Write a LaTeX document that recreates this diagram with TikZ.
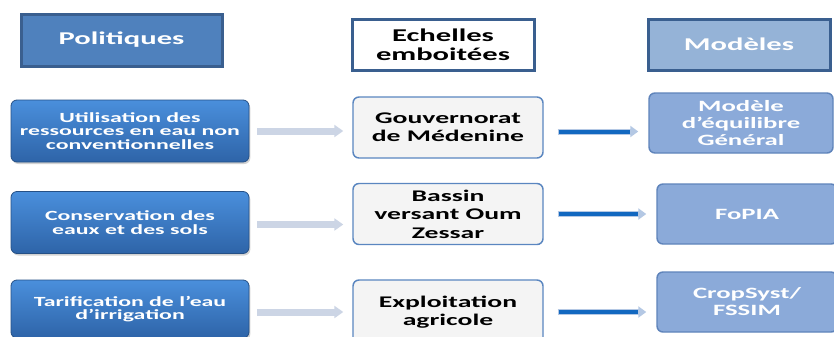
\documentclass[tikz,border=0pt]{standalone}
\usepackage{fontspec}
\setmainfont{Carlito}[FakeStretch=1.7]
\usetikzlibrary{arrows.meta,shadows}
\definecolor{hdrline}{HTML}{3A5F8F}
\definecolor{hdrfill}{HTML}{4F81BD}
\definecolor{mdlhdr}{HTML}{95B3D7}
\definecolor{poltop}{HTML}{4A8FDC}
\definecolor{polbot}{HTML}{2E64A8}
\definecolor{scaleline}{HTML}{5A86C0}
\definecolor{scalefill}{HTML}{F4F4F4}
\definecolor{mdlfill}{HTML}{8BAAD9}
\definecolor{mdlline}{HTML}{5F84BB}
\definecolor{greyarr}{HTML}{CCD5E5}
\definecolor{bluearr}{HTML}{1268C0}
\definecolor{bluehalo}{HTML}{B4C8E4}
\newcommand\pxu{0.75pt}
\begin{document}
\begin{tikzpicture}[x=0.75pt,y=-0.75pt,
  hdr/.style={draw=hdrline,line width=3*\pxu,inner sep=0pt,align=center,
    font=\bfseries\fontsize{13.5}{14}\selectfont},
  polbox/.style={rounded corners=6*\pxu,top color=poltop,bottom color=polbot,
    draw=polbot!80!black,line width=0.6pt,inner sep=0pt,align=center,text=white,
    drop shadow={shadow xshift=1pt,shadow yshift=-1.5pt,opacity=0.35},
    minimum width=238*\pxu,minimum height=62*\pxu,
    font=\bfseries\fontsize{10.5}{10}\selectfont},
  scalebox/.style={rounded corners=6*\pxu,fill=scalefill,draw=scaleline,line width=1.1pt,
    inner sep=0pt,align=center,text=black,minimum width=190*\pxu,minimum height=61*\pxu,
    font=\bfseries\fontsize{12.2}{13.8}\selectfont},
  mdlbox/.style={rounded corners=6*\pxu,fill=mdlfill,draw=mdlline,line width=1.1pt,
    inner sep=0pt,align=center,text=white,minimum width=180*\pxu,minimum height=60*\pxu,
    font=\bfseries\fontsize{11.8}{12.75}\selectfont},
  greylink/.style={draw=greyarr,line width=7*\pxu,
    -{Triangle[length=9*\pxu,width=12*\pxu]},shorten <=8*\pxu,shorten >=9*\pxu},
  bluelink/.style={draw=bluehalo,line width=6*\pxu,
    -{Triangle[length=8*\pxu,width=11*\pxu]},shorten <=14*\pxu,shorten >=10*\pxu,
    postaction={draw=bluearr,line width=4*\pxu,-,shorten <=15*\pxu,shorten >=18*\pxu}}
]
\clip (0,0) rectangle (834,336);
\fill[white] (0,0) rectangle (834,336);

% column headings
\node[hdr,fill=hdrfill,text=white,minimum width=201*\pxu,minimum height=52*\pxu] (hpol) at (121.5,40) {Politiques};
\node[hdr,fill=white,text=black,minimum width=182*\pxu,minimum height=51*\pxu] (hsca) at (443,44.5) {Echelles\\emboitées};
\node[hdr,fill=mdlhdr,text=white,minimum width=182*\pxu,minimum height=51*\pxu] (hmod) at (739,44.5) {Modèles};

% policies
\node[polbox] (p1) at (130,131) {Utilisation des\\ressources en eau non\\conventionnelles};
\node[polbox] (p2) at (130,222.5) {Conservation des\\eaux et des sols};
\node[polbox,minimum height=58*\pxu] (p3) at (130,309) {Tarification de l’eau\\d’irrigation};

% nested scales
\node[scalebox] (s1) at (448,127.5) {Gouvernorat\\de Médenine};
\node[scalebox] (s2) at (448,214) {Bassin\\versant Oum\\Zessar};
\node[scalebox,minimum height=64*\pxu] (s3) at (448,312) {Exploitation\\agricole};

% models
\node[mdlbox,minimum width=184*\pxu] (m1) at (741,123) {Modèle\\d’équilibre\\Général};
\node[mdlbox] (m2) at (747,214) {FoPIA};
\node[mdlbox] (m3) at (747,302) {CropSyst/\\FSSIM};

% links
\draw[greylink] (p1.east) -- (p1.east -| s1.west);
\draw[greylink] ([yshift=-2*\pxu]p2.east) -- ([yshift=-2*\pxu]p2.east -| s2.west);
\draw[greylink] ([yshift=-3*\pxu]p3.east) -- ([yshift=-3*\pxu]p3.east -| s3.west);
\draw[bluelink] ([yshift=-4*\pxu]s1.east) -- ([yshift=-4*\pxu]s1.east -| m1.west);
\draw[bluelink] (s2.east) -- (s2.east -| m2.west);
\draw[bluelink] (s3.east) -- (s3.east -| m3.west);
\end{tikzpicture}
\end{document}
